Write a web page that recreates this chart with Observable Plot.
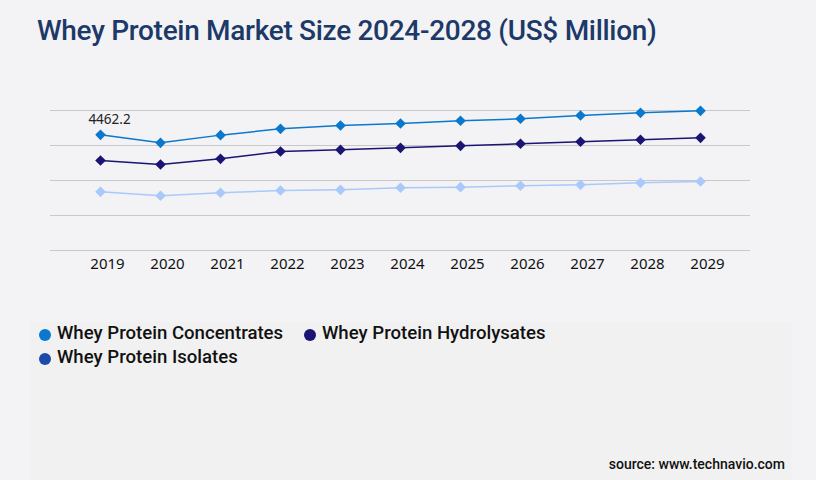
<!DOCTYPE html>
<html>
<head>
<meta charset="utf-8">
<script src="https://cdn.jsdelivr.net/npm/d3@7"></script>
<script src="https://cdn.jsdelivr.net/npm/@observablehq/plot@0.6"></script>
<style>
  html, body { margin: 0; padding: 0; }
  body { width: 816px; height: 480px; background: #f3f3f6; position: relative; overflow: hidden; font-family: Roboto, sans-serif; }
  #title { position: absolute; left: 37px; top: 14px; font-family: Roboto, sans-serif; font-size: 28px; font-weight: 500; color: #1c3968; letter-spacing: -0.3px; white-space: nowrap; }
  #panel { position: absolute; left: 30px; top: 322px; width: 762px; height: 158px; background: #f1f1f2; }
  #chart { position: absolute; left: 0; top: 0; }
  #legend { position: absolute; left: 39px; top: 322px; font-family: Roboto, sans-serif; font-size: 18.6px; font-weight: 500; color: #111; }
  .item { position: absolute; white-space: nowrap; display: flex; align-items: center; }
  .sw { width: 12px; height: 12px; border-radius: 50%; margin-right: 6px; margin-top: 3px; }
  #source { position: absolute; right: 31px; top: 456px; font-family: Roboto, sans-serif; font-size: 14px; font-weight: 500; color: #111; }
</style>
</head>
<body>
<div id="panel"></div>
<div id="title">Whey Protein Market Size 2024-2028 (US$ Million)</div>
<div id="chart"></div>
<div id="legend"></div>
<div id="source">source: www.technavio.com</div>
<script>
const years = [2019, 2020, 2021, 2022, 2023, 2024, 2025, 2026, 2027, 2028, 2029];
const concentrates = [4462.2, 4154, 4450, 4694, 4821, 4899, 5003, 5080, 5207, 5311, 5388];
const hydrolysates = [3471, 3317, 3537, 3819, 3884, 3961, 4038, 4116, 4193, 4270, 4347];
const isolates = [2264, 2110, 2226, 2314, 2341, 2419, 2442, 2496, 2534, 2611, 2661];
const seriesNames = ["Whey Protein Concentrates", "Whey Protein Hydrolysates", "Whey Protein Isolates"];
const lineColors = ["#0a78cc", "#1a1473", "#a9c9fb"];
const legendColors = ["#0a78cc", "#1a1473", "#1c4aa8"];
const yTicks = [0, 1350, 2700, 4050, 5400];

const seriesValues = [concentrates, hydrolysates, isolates];
const data = [];
seriesNames.forEach((s, i) => years.forEach((y, j) => data.push({series: s, year: y, value: seriesValues[i][j]})));
const labelData = [data[0]];

const chart = Plot.plot({
  width: 816,
  height: 290,
  marginTop: 110,
  marginBottom: 40,
  marginLeft: 50,
  marginRight: 66,
  style: {background: "transparent", fontFamily: "'Noto Sans', sans-serif"},
  x: {type: "point", domain: years, padding: 0.8333, label: null},
  y: {domain: [0, 5400], axis: null},
  color: {domain: seriesNames, range: lineColors},
  marks: [
    Plot.gridY(yTicks, {stroke: "#c8c8c8", strokeOpacity: 1, strokeWidth: 1}),
    Plot.axisX({tickSize: 0, tickPadding: 8, dx: 7, fontSize: 15, color: "#111", label: null, tickFormat: d => String(d)}),
    Plot.line(data, {x: "year", y: "value", z: "series", stroke: "series", strokeWidth: 1.5}),
    Plot.dot(data, {x: "year", y: "value", fill: "series", symbol: "diamond2", r: 4.8}),
    Plot.text(labelData, {x: "year", y: "value", text: d => d.value.toFixed(1), dy: -15, dx: 9, fontSize: 13.5, fill: "#222"})
  ]
});
document.getElementById("chart").appendChild(chart);

const legend = document.getElementById("legend");
const positions = [[0, 0], [265, 0], [0, 24]];
seriesNames.forEach((s, i) => {
  const it = document.createElement("div");
  it.className = "item";
  it.style.left = positions[i][0] + "px";
  it.style.top = positions[i][1] + "px";
  const sw = document.createElement("span");
  sw.className = "sw";
  sw.style.background = legendColors[i];
  const tx = document.createElement("span");
  tx.textContent = s;
  it.appendChild(sw);
  it.appendChild(tx);
  legend.appendChild(it);
});
</script>
</body>
</html>
